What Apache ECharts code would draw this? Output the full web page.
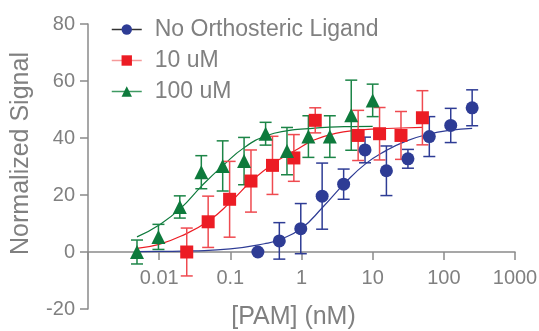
<!DOCTYPE html>
<html>
<head>
<meta charset="utf-8">
<script src="https://cdn.jsdelivr.net/npm/echarts@6/dist/echarts.min.js"></script>
<style>
  html, body { margin: 0; padding: 0; background: #fff; }
  #chart { width: 539px; height: 331px; }
</style>
</head>
<body>
<div id="chart"></div>
<script>
// series names
const seriesNames = ["No Orthosteric Ligand", "10 uM", "100 uM"];
const xTickLabels = ["", "0.01", "0.1", "1", "10", "100", "1000"];

// No Orthosteric Ligand (blue)
const blueX = [0.244, 0.488, 0.977, 1.95, 3.91, 7.81, 15.6, 31.3, 62.5, 125, 250];
const blueY = [0, 3.9, 8.2, 19.6, 23.8, 35.8, 28.5, 32.7, 40.5, 44.4, 50.6];
const blueErr = [0, 6.4, 8.8, 11.6, 5.3, 4.5, 8.7, 3.3, 7, 6, 6.3];
const blueFitX = [0.00488, 0.01, 0.03, 0.1, 0.3, 0.5, 1, 2, 4, 8, 15, 30, 60, 120, 250];
const blueFitY = [0.1, 0.2, 0.4, 1.1, 2.9, 4.4, 8.3, 15.8, 24, 31, 35.4, 39, 41.3, 42.7, 43.4];

// 10 uM (red)
const redX = [0.0244, 0.0488, 0.0977, 0.195, 0.391, 0.781, 1.56, 6.25, 12.5, 25, 50];
const redY = [0, 10.6, 18.5, 24.9, 30.4, 33, 46.2, 40.9, 41.5, 40.9, 47.1];
const redErr = [8.4, 9, 13.3, 10.9, 10.2, 8.2, 4.4, 8.8, 9.2, 8.4, 9.5];
const redFitX = [0.00488, 0.01, 0.02, 0.05, 0.1, 0.2, 0.4, 0.8, 1.5, 3, 6, 12, 25, 50];
const redFitY = [1.3, 2.7, 5.5, 11, 17.5, 25, 31, 35.5, 39.3, 41.6, 42.7, 43.2, 43.5, 43.7];

// 100 uM (green)
const greenX = [0.00488, 0.00977, 0.0195, 0.0391, 0.0781, 0.156, 0.313, 0.625, 1.25, 2.5, 5, 10];
const greenY = [0, 5.3, 15.8, 28, 30.2, 31.9, 41.5, 35.4, 40.5, 40.5, 48, 53.2];
const greenErr = [4.2, 4.4, 3.9, 5.8, 8.8, 8.3, 4, 8.3, 7.3, 7.3, 12.3, 5.7];
const greenFitX = [0.00488, 0.01, 0.02, 0.04, 0.08, 0.16, 0.32, 0.64, 1.25, 2.5, 5, 10];
const greenFitY = [5.3, 9.5, 15.3, 23.3, 30.5, 36.8, 40.8, 42.6, 43.3, 43.8, 44, 44.1];

const BLUE = "#2e3c95";
const RED = "#ec1c24";
const GREEN = "#0e7a3c";
const GREY = "#808080";
const AXIS = "#8a8a8a";
const FONT = "Liberation Sans, Arial, sans-serif";

const zip = (xs, ys) => xs.map((x, i) => [x, ys[i]]);
const errData = (xs, ys, es) => xs.map((x, i) => [x, ys[i] - es[i], ys[i] + es[i]]);

function errorBars(color) {
  return function (params, api) {
    const x = api.value(0);
    const lo = api.coord([x, api.value(1)]);
    const hi = api.coord([x, api.value(2)]);
    const half = 6;
    const style = { stroke: color, lineWidth: 1.5, fill: null };
    return {
      type: "group",
      children: [
        { type: "line", shape: { x1: lo[0], y1: lo[1], x2: hi[0], y2: hi[1] }, style },
        { type: "line", shape: { x1: hi[0] - half, y1: hi[1], x2: hi[0] + half, y2: hi[1] }, style },
        { type: "line", shape: { x1: lo[0] - half, y1: lo[1], x2: lo[0] + half, y2: lo[1] }, style },
      ],
    };
  };
}

function group(name, color, barColor, symbol, xs, ys, es, fx, fy) {
  return [
    {
      name,
      type: "line",
      data: zip(fx, fy),
      smooth: true,
      symbol,
      showSymbol: false,
      color,
      lineStyle: { width: 1.2, color },
      z: 2,
      silent: true,
    },
    {
      name: name + " error",
      type: "custom",
      data: errData(xs, ys, es),
      encode: { x: 0, y: [1, 2] },
      renderItem: errorBars(barColor),
      z: 3,
      silent: true,
    },
    {
      name: name + " points",
      type: "scatter",
      data: zip(xs, ys),
      symbol,
      symbolSize: symbol === "triangle" ? 14 : 13,
      itemStyle: { color, opacity: 1 },
      z: 4,
      silent: true,
    },
  ];
}

const chart = echarts.init(document.getElementById("chart"), null, { renderer: "canvas" });

chart.setOption({
  animation: false,
  grid: { left: 88, right: 24, top: 24, bottom: 22, containLabel: false, outerBoundsMode: "none" },
  legend: {
    orient: "vertical",
    left: 106,
    top: 13,
    itemWidth: 30,
    itemHeight: 13,
    itemGap: 8,
    textStyle: { color: GREY, fontSize: 23, fontFamily: FONT, padding: [0, 0, 0, 8] },
    data: [
      { name: seriesNames[0], lineStyle: { color: "#333333", width: 1.5 } },
      { name: seriesNames[1], lineStyle: { color: "#f59a9a", width: 1.5 } },
      { name: seriesNames[2], lineStyle: { color: "#3e9a62", width: 1.5 } },
    ],
  },
  xAxis: {
    type: "log",
    logBase: 10,
    min: 0.001,
    max: 1000,
    // axis sits at y = 0, 20% of the grid height above the bottom edge
    offset: -57,
    name: "[PAM] (nM)",
    nameLocation: "middle",
    nameGap: 53,
    nameTextStyle: { color: GREY, fontSize: 25, fontFamily: FONT, padding: [0, 16, 0, 0] },
    axisLine: { onZero: false, lineStyle: { color: AXIS, width: 1.5 } },
    axisTick: { show: true, length: 8, lineStyle: { color: AXIS, width: 1.5 } },
    minorTick: { show: false },
    splitLine: { show: false },
    axisLabel: {
      color: GREY,
      fontSize: 20,
      fontFamily: FONT,
      margin: 16,
      formatter: (v) => xTickLabels[Math.round(Math.log10(v)) + 3] || "",
    },
  },
  yAxis: {
    type: "value",
    min: -20,
    max: 80,
    interval: 20,
    name: "Normalized Signal",
    nameLocation: "middle",
    nameGap: 54,
    nameTextStyle: { color: GREY, fontSize: 25, fontFamily: FONT, padding: [0, 0, 0, 26] },
    axisLine: { show: true, onZero: false, lineStyle: { color: AXIS, width: 1.5 } },
    axisTick: { show: true, length: 8, lineStyle: { color: AXIS, width: 1.5 } },
    splitLine: { show: false },
    axisLabel: { color: GREY, fontSize: 20, fontFamily: FONT, margin: 13 },
  },
  series: [
    ...group(seriesNames[0], BLUE, BLUE, "circle", blueX, blueY, blueErr, blueFitX, blueFitY),
    ...group(seriesNames[1], RED, "#ef4a50", "rect", redX, redY, redErr, redFitX, redFitY),
    ...group(seriesNames[2], GREEN, "#1c8547", "triangle", greenX, greenY, greenErr, greenFitX, greenFitY),
  ],
});
</script>
</body>
</html>
